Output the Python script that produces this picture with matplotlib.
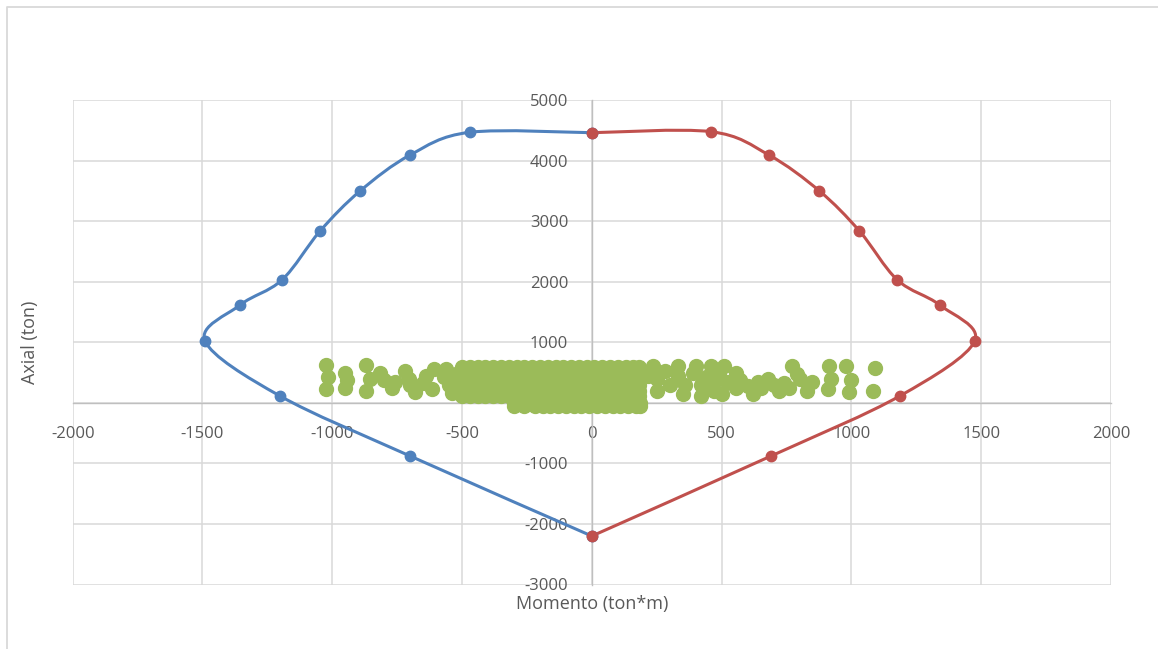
"""Interaction diagram (Momento vs Axial) in an Excel-like style."""
import numpy as np
import matplotlib
matplotlib.use("Agg")
import matplotlib.pyplot as plt
from matplotlib.path import Path
from matplotlib.patches import PathPatch
from matplotlib.lines import Line2D

plt.rcParams["font.family"] = ["Open Sans", "DejaVu Sans"]
plt.rcParams["axes.unicode_minus"] = False

# --- data -------------------------------------------------------------
blue_m = [0, -470, -700, -893, -1047, -1194, -1355, -1490, -1201, -700, 0]
blue_p = [4460, 4467, 4092, 3497, 2836, 2028, 1615, 1020, 112, -879, -2200]

red_m = [0, 459, 682, 877, 1031, 1177, 1340, 1475, 1186, 690, 0]
red_p = [4460, 4477, 4092, 3497, 2836, 2028, 1615, 1020, 112, -879, -2200]

# sparse load combinations, left side
green_left_m = [-1025, -1015, -1025, -950, -945, -950,
                -870, -855, -870, -815, -800, -770, -760,
                -720, -705, -700, -680, -650, -640, -615, -610,
                -570, -560, -550, -540, -525]
green_left_p = [620, 420, 230, 500, 370, 240,
                620, 400, 200, 500, 380, 240, 350,
                520, 400, 300, 180, 330, 450, 230, 560,
                420, 560, 300, 160, 470]

# dense centre, listed row by row
green_row_m = [-500, -470, -440, -410, -380, -350, -320, -290, -260, -230, -200,
               -170, -140, -110, -80, -50, -20, 10, 40, 70, 100, 130, 160, 180]
green_rows_p = [590, 500, 400, 300, 200, 110]
green_low_m = [-300, -260, -220, -190, -160, -130, -100, -70, -40, -10, 20, 50,
               80, 110, 140, 170, 185]
green_low_p = [0, -60]

# sparse load combinations, right side
green_right_m = [215, 235, 250, 250, 280, 300, 330, 330, 350, 360, 390, 400, 420,
                 420, 440, 460, 470, 470, 490,
                 510, 520, 500, 555, 555, 570, 600, 640, 620, 650, 680, 700, 720,
                 740, 770, 790, 800, 830, 760, 850, 915, 920, 910,
                 980, 1000, 990, 1090, 1085]
green_right_p = [450, 600, 400, 200, 520, 300, 610, 450, 150, 300, 500, 600, 300,
                 120, 420, 600, 200, 350, 500,
                 600, 350, 150, 500, 250, 380, 280, 350, 150, 250, 400, 300, 200,
                 330, 600, 480, 400, 200, 250, 350, 610, 400, 230,
                 600, 380, 180, 570, 200]

BLUE = "#4F81BD"
RED = "#C0504D"
GREEN = "#9BBB59"
TEXT = "#595959"
GRID = "#D9D9D9"


def smooth_path(xs, ys):
    """Excel-style smoothed line: cubic Bezier through every point."""
    pts = np.column_stack([xs, ys]).astype(float)
    n = len(pts)
    verts = [pts[0]]
    codes = [Path.MOVETO]
    for i in range(n - 1):
        p0 = pts[i - 1] if i > 0 else pts[i]
        p1 = pts[i]
        p2 = pts[i + 1]
        p3 = pts[i + 2] if i + 2 < n else pts[i + 1]
        c1 = p1 + (p2 - p0) / 6.0
        c2 = p2 - (p3 - p1) / 6.0
        verts += [c1, c2, p2]
        codes += [Path.CURVE4] * 3
    return Path(verts, codes)


fig = plt.figure(figsize=(11.58, 6.49), dpi=100)
ax = fig.add_axes([72.7 / 1158, 1 - 584.5 / 649, (1111 - 72.7) / 1158, 484.5 / 649])

ax.set_xlim(-2000, 2000)
ax.set_ylim(-3000, 5000)
ax.set_xticks(np.arange(-2000, 2001, 500))
ax.set_yticks(np.arange(-3000, 5001, 1000))
ax.grid(True, color=GRID, linewidth=1.1, zorder=0)
ax.set_axisbelow(True)

for side in ("top", "right"):
    ax.spines[side].set_visible(False)
ax.spines["left"].set_position(("data", 0))
ax.spines["bottom"].set_position(("data", 0))
ax.spines["left"].set_color("#BFBFBF")
ax.spines["bottom"].set_color("#BFBFBF")
ax.spines["left"].set_linewidth(1.0)
ax.spines["bottom"].set_linewidth(1.0)
ax.tick_params(axis="both", length=0, labelsize=12, labelcolor=TEXT)
ax.tick_params(axis="y", pad=17)
ax.tick_params(axis="x", pad=17)

# green demand points
gm = list(green_left_m) + list(green_right_m)
gp = list(green_left_p) + list(green_right_p)
for p in green_rows_p:
    gm += green_row_m
    gp += [p] * len(green_row_m)
for p in green_low_p:
    gm += green_low_m
    gp += [p] * len(green_low_m)
ax.plot(gm, gp, linestyle="none", marker="o", markersize=10,
        color=GREEN, zorder=3)

# capacity curves
for xs, ys, col in ((blue_m, blue_p, BLUE), (red_m, red_p, RED)):
    ax.add_patch(PathPatch(smooth_path(xs, ys), facecolor="none",
                           edgecolor=col, linewidth=2.2, zorder=4))
    ax.plot(xs, ys, linestyle="none", marker="o", markersize=7.5,
            color=col, zorder=5)

fig.text(591.9 / 1158, 1 - 604 / 649, "Momento (ton*m)", ha="center",
         va="center", fontsize=13, color=TEXT)
fig.text(30 / 1158, 1 - 342 / 649, "Axial (ton)", ha="center", va="center",
         rotation=90, fontsize=13, color=TEXT)

# chart-area border (only top and left edges fall inside the image)
fig.add_artist(Line2D([6.5 / 1158, 6.5 / 1158, 1.0],
                      [0.0, 1 - 6.5 / 649, 1 - 6.5 / 649],
                      transform=fig.transFigure, color=GRID, linewidth=1.3))

fig.savefig("out.png", dpi=100)
